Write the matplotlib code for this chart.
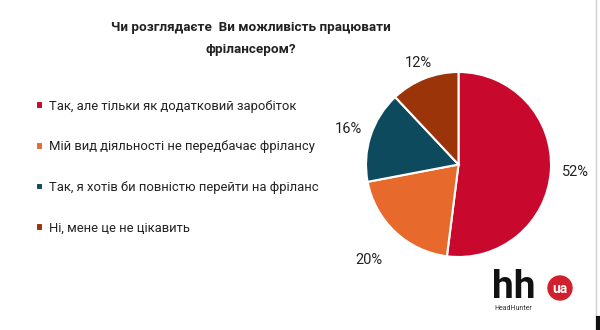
import numpy as np
import matplotlib
matplotlib.use("Agg")
from matplotlib import pyplot as plt
from matplotlib.patches import Circle

plt.rcParams['font.family'] = ['Roboto', 'DejaVu Sans']

# дані
title = "Чи розглядаєте  Ви можливість працювати\nфрілансером?"
labels = ["Так, але тільки як додатковий заробіток",
          "Мій вид діяльності не передбачає фрілансу",
          "Так, я хотів би повністю перейти на фріланс",
          "Ні, мене це не цікавить"]
values = [52, 20, 16, 12]
colors = ["#C8082C", "#E8692C", "#0D4A5E", "#9B3408"]
label_dist = [1.27, 1.41, 1.25, 1.18]  # відстань підписів від центру (у радіусах)

fig = plt.figure(figsize=(6, 3.3), dpi=100)
ax = fig.add_axes([0, 0, 1, 1])

R = 92.5
cx, cy = 458.5, 165.5
wedges, texts = ax.pie(values, colors=colors, startangle=90, counterclock=False,
                       center=(cx, cy), radius=R, frame=True,
                       wedgeprops=dict(edgecolor="white", linewidth=1.5))
ax.set_xlim(0, 600)
ax.set_ylim(0, 330)
ax.set_aspect("equal")
ax.axis("off")

for w, v, d in zip(wedges, values, label_dist):
    ang = np.deg2rad((w.theta1 + w.theta2) / 2)
    ax.text(cx + d * R * np.cos(ang), cy + d * R * np.sin(ang), "%d%%" % v,
            ha="center", va="center", fontsize=10.5, color="#222222")

# легенда
leg = ax.legend(wedges, labels, loc="upper left", bbox_to_anchor=(24, 330 - 88),
                bbox_transform=ax.transData, frameon=False, fontsize=9.4,
                handlelength=0.55, handleheight=0.55, handletextpad=0.45,
                labelspacing=2.12)
for t in leg.get_texts():
    t.set_color("#222222")

# заголовок
ax.text(251, 330 - 38, title, ha="center", va="center", fontsize=9.7,
        fontweight="bold", color="#222222", linespacing=1.9)

# логотип
ax.text(492, 330 - 298, "hh", fontsize=28, fontweight="bold", color="#111111",
        ha="left", va="baseline")
ax.add_patch(Circle((560, 330 - 288), 12, color="#D0202E"))
ax.text(560, 330 - 289, "ua", fontsize=10, fontweight="bold", color="white",
        ha="center", va="center")
ax.text(494, 330 - 310, "HeadHunter", fontsize=5, color="#333333",
        ha="left", va="baseline")

# рамка праворуч
ax.plot([596, 596], [0, 330], color="#D0D0D0", linewidth=1)
ax.plot([597.5, 597.5], [0, 12], color="#111111", linewidth=3)

fig.savefig("out.png", dpi=100)
